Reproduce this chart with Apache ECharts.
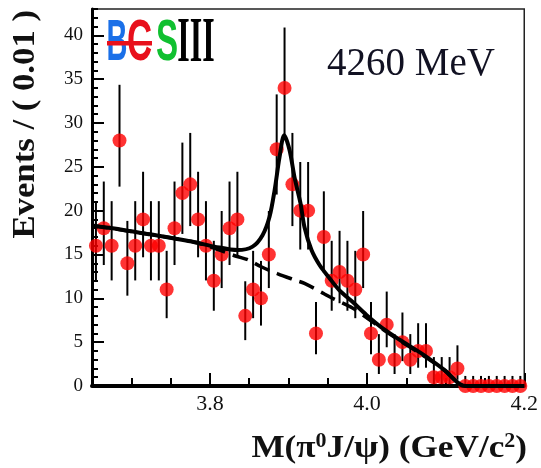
<!DOCTYPE html>
<html>
<head>
<meta charset="utf-8">
<script src="https://cdn.jsdelivr.net/npm/echarts@6/dist/echarts.min.js"></script>
<style>
  html, body { margin: 0; padding: 0; background: #fff; }
  #chart { width: 541px; height: 468px; }
</style>
</head>
<body>
<div id="chart"></div>
<script>
// M(pi0 J/psi) spectrum at 4260 MeV, 10 MeV bins
const binCenters = [
  3.655, 3.665, 3.675, 3.685, 3.695, 3.705, 3.715, 3.725, 3.735, 3.745,
  3.755, 3.765, 3.775, 3.785, 3.795, 3.805, 3.815, 3.825, 3.835, 3.845,
  3.855, 3.865, 3.875, 3.885, 3.895, 3.905, 3.915, 3.925, 3.935, 3.945,
  3.955, 3.965, 3.975, 3.985, 3.995, 4.005, 4.015, 4.025, 4.035, 4.045,
  4.055, 4.065, 4.075, 4.085, 4.095, 4.105, 4.115, 4.125, 4.135, 4.145,
  4.155, 4.165, 4.175, 4.185, 4.195
];
const counts = [
  16, 18, 16, 28, 14, 16, 19, 16, 16, 11,
  18, 22, 23, 19, 16, 12, 15, 18, 19, 8,
  11, 10, 15, 27, 34, 23, 20, 20, 6, 17,
  12, 13, 12, 11, 15, 6, 3, 7, 3, 5,
  3, 4, 4, 1, 1, 1, 2, 0, 0, 0,
  0, 0, 0, 0, 0
];

// total fit (signal + background)
const fitX = [3.650, 3.690, 3.7234, 3.7806, 3.806, 3.8352, 3.8543, 3.867, 3.8759, 3.8823,
              3.8886, 3.8945, 3.9014, 3.9077, 3.9154, 3.9204, 3.9293, 3.9395, 3.9522, 3.9649,
              3.9814, 3.9992, 4.0195, 4.0411, 4.0729, 4.0983, 4.125, 4.200];
const fitY = [18.3, 17.8, 17.3, 16.4, 15.9, 15.5, 15.9, 17.2, 19.3, 22.3,
              26.1, 28.6, 26.9, 23.8, 20.8, 18.1, 15.5, 13.8, 12.3, 10.9,
              9.6, 8.1, 6.6, 5.3, 3.5, 1.85, 0, 0];

// background component
const bkgX = [3.650, 3.7234, 3.7806, 3.806, 3.8336, 3.8483, 3.8654, 3.8865, 3.9077, 3.9204,
              3.9458, 3.956, 3.9814, 3.9992, 4.0195, 4.0411, 4.0729, 4.0983, 4.125, 4.200];
const bkgY = [18.3, 17.3, 16.4, 15.7, 14.8, 14.4, 13.6, 12.8, 12.1, 11.7,
              10.5, 10.0, 8.9, 7.8, 6.5, 5.2, 3.4, 1.8, 0, 0];

const xMajorTicks = [3.8, 4.0, 4.2];
const yMajorTicks = [0, 5, 10, 15, 20, 25, 30, 35, 40];

// 68.27% Poisson interval (central for n>0, one-sided for n=0)
function poissonCdf(n, mu) {
  let term = Math.exp(-mu), sum = term;
  for (let k = 1; k <= n; k++) { term *= mu / k; sum += term; }
  return sum;
}
function solveDecreasing(f, target, lo, hi) {
  for (let i = 0; i < 80; i++) {
    const mid = (lo + hi) / 2;
    if (f(mid) > target) lo = mid; else hi = mid;
  }
  return (lo + hi) / 2;
}
function poissonInterval(n) {
  const cl = 0.6827;
  if (n === 0) return [0, -Math.log(1 - cl)];
  const a = (1 - cl) / 2;
  const up = solveDecreasing(mu => poissonCdf(n, mu), a, 0, n + 60);
  const lo = solveDecreasing(mu => poissonCdf(n - 1, mu), 1 - a, 0, n + 60);
  return [lo, up];
}

const points = binCenters.map((x, i) => [x, counts[i]]);
const errBars = binCenters.map((x, i) => [x].concat(poissonInterval(counts[i])));
const fitData = fitX.map((x, i) => [x, fitY[i]]);
const bkgData = bkgX.map((x, i) => [x, bkgY[i]]);

const serif = '"Liberation Serif", "Times New Roman", serif';
const X_MIN = 3.65, X_MAX = 4.2, Y_MIN = 0, Y_MAX = 43;

const chart = echarts.init(document.getElementById('chart'), null, { renderer: 'canvas' });

chart.setOption({
  animation: false,
  backgroundColor: '#fff',
  grid: {
    left: 92, right: 16, top: 9, bottom: 82,
    show: true, borderColor: '#222', borderWidth: 1.5, backgroundColor: 'transparent'
  },
  xAxis: [
    {
      type: 'value', min: X_MIN, max: X_MAX, interval: 0.05,
      position: 'bottom',
      axisLine: { show: true, onZero: false, lineStyle: { color: '#000', width: 4 } },
      axisTick: { show: true, inside: true, length: 8, lineStyle: { color: '#000', width: 2 } },
      axisLabel: { show: false },
      splitLine: { show: false }
    },
    {
      type: 'value', min: X_MIN, max: X_MAX,
      position: 'bottom', offset: 0,
      axisLine: { show: false },
      axisTick: { show: true, inside: true, length: 13, customValues: xMajorTicks,
                  lineStyle: { color: '#000', width: 2 } },
      axisLabel: {
        show: true, customValues: xMajorTicks, margin: 7,
        formatter: v => v.toFixed(1),
        fontFamily: serif, fontSize: 22, color: '#111'
      },
      splitLine: { show: false }
    }
  ],
  yAxis: [
    {
      type: 'value', min: Y_MIN, max: Y_MAX, interval: 1,
      position: 'left',
      axisLine: { show: true, onZero: false, lineStyle: { color: '#000', width: 3 } },
      axisTick: { show: true, inside: true, length: 6, lineStyle: { color: '#000', width: 2 } },
      axisLabel: { show: false },
      splitLine: { show: false }
    },
    {
      type: 'value', min: Y_MIN, max: Y_MAX,
      position: 'left', offset: 0,
      axisLine: { show: false },
      axisTick: { show: true, inside: true, length: 12, customValues: yMajorTicks,
                  lineStyle: { color: '#000', width: 2 } },
      axisLabel: {
        show: true, customValues: yMajorTicks, margin: 9,
        fontFamily: serif, fontSize: 19, color: '#111'
      },
      splitLine: { show: false }
    }
  ],
  series: [
    {
      name: 'errors',
      type: 'custom',
      xAxisIndex: 0, yAxisIndex: 0,
      clip: false, silent: true, z: 2,
      encode: { x: 0, y: [1, 2] },
      data: errBars,
      renderItem: (params, api) => {
        const x = api.value(0);
        const p1 = api.coord([x, api.value(1)]);
        const p2 = api.coord([x, api.value(2)]);
        return {
          type: 'line',
          shape: { x1: p1[0], y1: p1[1], x2: p2[0], y2: p2[1] },
          style: { stroke: '#000', lineWidth: 2 }
        };
      }
    },
    {
      name: 'data',
      type: 'scatter',
      xAxisIndex: 0, yAxisIndex: 0,
      clip: false, silent: true, z: 3,
      symbol: 'circle', symbolSize: 14,
      itemStyle: { color: '#ff0000' },
      data: points
    },
    {
      name: 'background',
      type: 'line',
      xAxisIndex: 0, yAxisIndex: 0,
      showSymbol: false, silent: true, z: 4,
      smooth: 0.3,
      lineStyle: { color: '#000', width: 3.5, type: [16, 8] },
      data: bkgData
    },
    {
      name: 'fit',
      type: 'line',
      xAxisIndex: 0, yAxisIndex: 0,
      showSymbol: false, silent: true, z: 5,
      smooth: 0.3,
      lineStyle: { color: '#000', width: 4 },
      data: fitData
    }
  ],
  graphic: [
    // experiment logo
    { type: 'text', x: 117, y: 44, scaleX: 0.5, z: 10,
      style: { text: 'B', fontFamily: '"Liberation Sans", Arial, sans-serif', fontWeight: 'bold',
               fontSize: 58, fill: '#1a6fe8', align: 'center', verticalAlign: 'middle' } },
    { type: 'text', x: 139.5, y: 44, scaleX: 0.6, z: 10,
      style: { text: 'C', fontFamily: '"Liberation Sans", Arial, sans-serif', fontWeight: 'bold',
               fontSize: 58, fill: '#e8101c', align: 'center', verticalAlign: 'middle' } },
    { type: 'rect', z: 11, shape: { x: 107, y: 41, width: 45, height: 4.5 }, style: { fill: '#e8101c' } },
    { type: 'text', x: 167, y: 44, scaleX: 0.57, z: 10,
      style: { text: 'S', fontFamily: '"Liberation Sans", Arial, sans-serif', fontWeight: 'bold',
               fontSize: 58, fill: '#10c030', align: 'center', verticalAlign: 'middle' } },
    { type: 'text', x: 196, y: 44, scaleX: 0.5, z: 10,
      style: { text: 'III', fontFamily: serif, fontWeight: 'bold',
               fontSize: 64, fill: '#000', align: 'center', verticalAlign: 'middle' } },
    // energy point
    { type: 'text', x: 327, y: 65, z: 10,
      style: { text: '4260 MeV', fontFamily: serif, fontSize: 39, fill: '#111122',
               align: 'left', verticalAlign: 'middle' } },
    // axis titles
    { type: 'text', x: 527, y: 449, scaleX: 1.1, z: 10,
      style: {
        text: '{a|M(π}{s|0}{a|J/ψ) (GeV/c}{s|2}{a|)}',
        align: 'right', verticalAlign: 'middle',
        rich: {
          a: { fontFamily: serif, fontWeight: 'bold', fontSize: 32, fill: '#111', lineHeight: 34 },
          s: { fontFamily: serif, fontWeight: 'bold', fontSize: 20, fill: '#111', verticalAlign: 'top', lineHeight: 34 }
        }
      } },
    { type: 'text', x: 26, y: 10, rotation: Math.PI / 2, scaleX: 1.12, z: 10,
      style: { text: 'Events / ( 0.01 )', fontFamily: serif, fontWeight: 'bold', fontSize: 31,
               fill: '#111', align: 'right', verticalAlign: 'middle' } }
  ]
});
</script>
</body>
</html>
